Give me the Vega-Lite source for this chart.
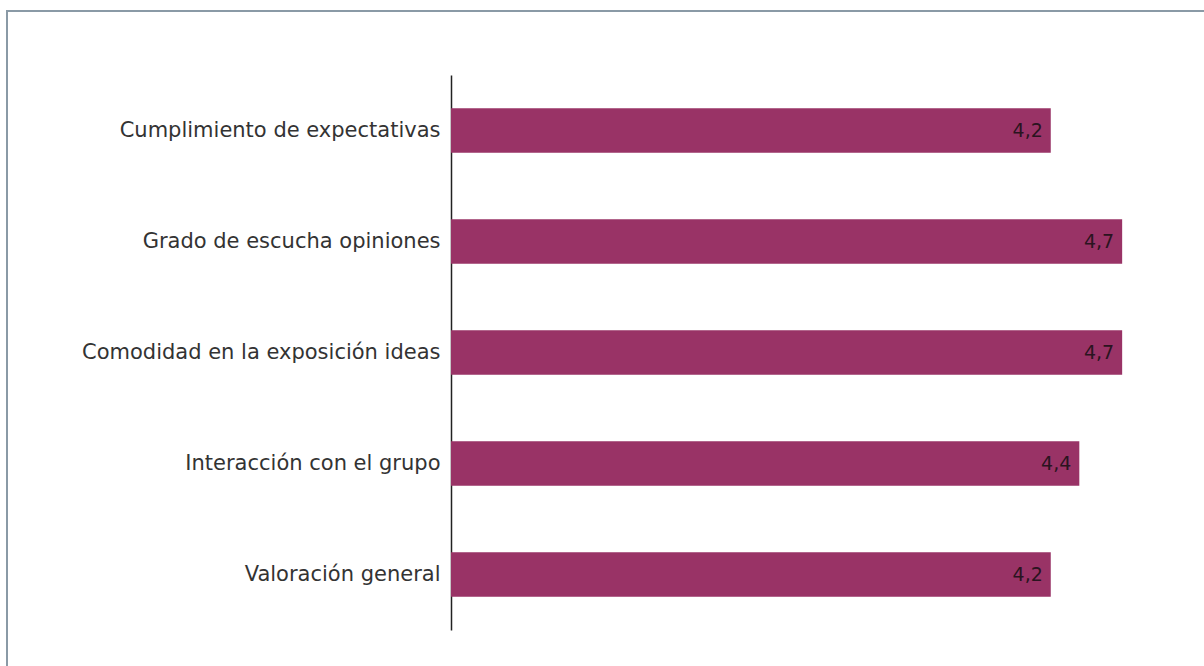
{
  "$schema": "https://vega.github.io/schema/vega-lite/v6.json",
  "autosize": "none",
  "padding": {"left": 7, "top": 11, "right": 0, "bottom": 0},
  "width": 1210,
  "height": 670,
  "background": "white",
  "config": {
    "view": {"stroke": "#8a9aa6", "strokeWidth": 2},
    "locale": {"number": {"decimal": ",", "thousands": ".", "grouping": [3], "currency": ["", " €"]}},
    "font": "DejaVu Sans"
  },
  "data": {
    "values": [
      {"categoria": "Cumplimiento de expectativas", "valor": 4.2},
      {"categoria": "Grado de escucha opiniones", "valor": 4.7},
      {"categoria": "Comodidad en la exposición ideas", "valor": 4.7},
      {"categoria": "Interacción con el grupo", "valor": 4.4},
      {"categoria": "Valoración general", "valor": 4.2}
    ]
  },
  "encoding": {
    "y": {
      "field": "categoria",
      "type": "nominal",
      "sort": null,
      "scale": {"range": [64, 619], "paddingInner": 0.6, "paddingOuter": 0.3},
      "axis": {
        "title": null,
        "offset": -444,
        "ticks": false,
        "grid": false,
        "domain": true,
        "domainColor": "#222222",
        "domainWidth": 1.5,
        "labelPadding": 11,
        "labelFontSize": 21,
        "labelColor": "#333333",
        "labelFont": "DejaVu Sans",
        "labelLimit": 600
      }
    },
    "x": {
      "field": "valor",
      "type": "quantitative",
      "scale": {"domain": [0, 5], "range": [444, 1158], "nice": false, "zero": true},
      "axis": null
    }
  },
  "layer": [
    {"mark": {"type": "bar", "color": "#993366"}},
    {
      "mark": {"type": "text", "align": "right", "baseline": "middle", "dx": -8, "fontSize": 19, "color": "#2a1420", "font": "DejaVu Sans"},
      "encoding": {"text": {"field": "valor", "type": "quantitative", "format": ".1f"}}
    }
  ]
}
